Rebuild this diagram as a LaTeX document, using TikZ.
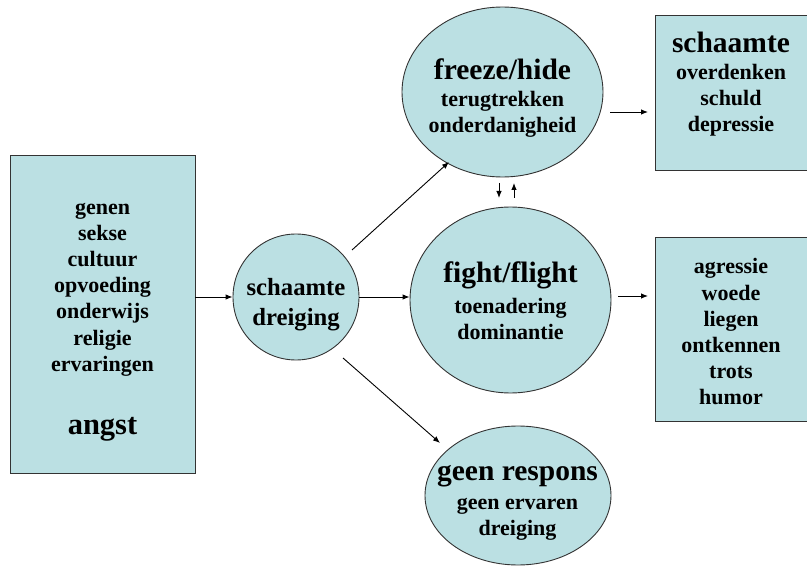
\documentclass[tikz,border=0pt]{standalone}
\usepackage{fontspec}
\setmainfont{Liberation Serif}
\usetikzlibrary{shapes.geometric,arrows.meta}
\definecolor{fillblue}{HTML}{BBE0E3}
\definecolor{edge}{HTML}{333333}
\tikzset{
  shapebox/.style={draw=edge,fill=fillblue,line width=0.9pt,inner sep=0pt},
  rectbox/.style={shapebox,rectangle},
  ellbox/.style={shapebox,ellipse},
  small/.style={font=\bfseries\fontsize{22}{26.2}\selectfont,align=center,inner sep=0pt},
  big/.style={font=\bfseries\fontsize{29.5}{34}\selectfont,align=center,inner sep=0pt},
  mid/.style={font=\bfseries\fontsize{24.7}{30}\selectfont,align=center,inner sep=0pt},
  arr/.style={-{Latex[length=7pt,width=5.5pt]},line width=0.9pt,black},
}
\begin{document}
\begin{tikzpicture}[x=1pt,y=-1pt]
\useasboundingbox (0,0) rectangle (807,567);
% shapes
\node[rectbox,minimum width=185,minimum height=318] (L) at (102.5,314) {};
\node[shapebox,circle,minimum size=126] (S) at (296,297) {};
\node[ellbox,minimum width=201,minimum height=170] (F) at (502.5,92) {};
\node[ellbox,minimum width=201,minimum height=186] (G) at (510.5,300) {};
\node[ellbox,minimum width=186,minimum height=139] (N) at (518,495.5) {};
\node[rectbox,minimum width=156,minimum height=155] (R1) at (733,92.5) {};
\node[rectbox,minimum width=156,minimum height=184] (R2) at (733,329) {};
% texts
\node[small] (Lt) at (102.5,289.5) {genen\\sekse\\cultuur\\opvoeding\\onderwijs\\religie\\ervaringen};
\node[big] (Lb) at (102.5,429) {\fontsize{30.5}{34}\selectfont angst};
\node[mid] (St) at (296,305) {schaamte\\dreiging};
\node[big] (Fh) at (502.5,69) {freeze/hide};
\node[small] (Ft) at (502.5,114) {terugtrekken\\onderdanigheid};
\node[big] (Gh) at (510.5,275) {fight/flight};
\node[small] (Gt) at (510.5,319) {toenadering\\dominantie};
\node[big] (Nh) at (517.5,476) {geen respons};
\node[small] (Nt) at (517.5,519.5) {geen ervaren\\dreiging};
\node[big] (R1h) at (731,42) {schaamte};
\node[small] (R1t) at (731,100.5) {overdenken\\schuld\\depressie};
\node[small] (R2t) at (731,332) {agressie\\woede\\liegen\\ontkennen\\trots\\humor};
% connector endpoints
\coordinate (a2s) at (352,250); \coordinate (a2e) at (449,162);
\coordinate (a4s) at (343,358); \coordinate (a4e) at (440,443);
\coordinate (a5s) at (610,112); \coordinate (a5e) at (648,112);
\coordinate (a6s) at (618,296); \coordinate (a6e) at (648,296);
\coordinate (d1s) at (499,183); \coordinate (d1e) at (499,198);
\coordinate (u1s) at (514,198); \coordinate (u1e) at (514,183);
% connectors
\draw[arr] (L.east |- S.west) -- (S.west);
\draw[arr] (a2s) -- (a2e);
\draw[arr] (S.east) -- (S.east -| G.west);
\draw[arr] (a4s) -- (a4e);
\draw[arr] (a5s) -- (a5e);
\draw[arr] (a6s) -- (a6e);
\draw[arr] (d1s) -- (d1e);
\draw[arr] (u1s) -- (u1e);
\end{tikzpicture}
\end{document}
